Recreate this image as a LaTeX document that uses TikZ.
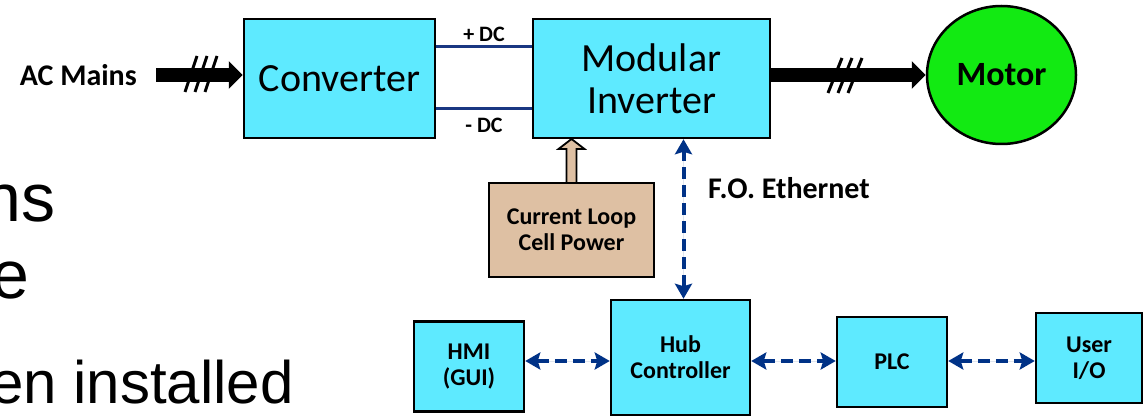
\documentclass[tikz,border=0pt]{standalone}
\usepackage{fontspec}
\newfontfamily\carlito{Carlito}
\newfontfamily\arialf{Liberation Sans}
\usetikzlibrary{arrows.meta,calc,shapes.geometric}
\definecolor{cyanbox}{RGB}{94,234,255}
\definecolor{tanbox}{RGB}{222,192,163}
\definecolor{motorgreen}{RGB}{18,234,18}
\definecolor{navy}{RGB}{0,50,135}
\definecolor{dcblue}{RGB}{25,55,130}
\pgfdeclareradialshading{bgshade}{\pgfpoint{0bp}{0bp}}{color(0bp)=(white); color(28bp)=(white); color(45bp)=(black!18); color(75bp)=(black!18)}
\begin{document}
\begin{tikzpicture}[x=1pt,y=-1pt,
  box/.style={draw=black, line width=2.5pt, fill=cyanbox, inner sep=0pt, align=center},
  bigtext/.style={font=\carlito\fontsize{40}{42}\selectfont},
  smalltext/.style={font=\carlito\bfseries\fontsize{24}{26}\selectfont},
  dclabel/.style={font=\carlito\bfseries\fontsize{22}{24}\selectfont, inner sep=0pt},
  slidetext/.style={anchor=base east, inner sep=0pt},
  thickarrow/.style={line width=14pt, -{Triangle[length=14pt 0 0, width=27pt 0 0]}},
  hashmark/.style={line width=3pt},
  dcline/.style={draw=dcblue, line width=3pt},
  foarrow/.style={draw=navy, fill=navy, line width=4pt, dash pattern=on 12pt off 6pt,
    {Stealth[length=15pt 0 0, width=17pt 0 0, inset=2.5pt]}-{Stealth[length=15pt 0 0, width=17pt 0 0, inset=2.5pt]}}
]
\useasboundingbox (0,0) rectangle (1144,417);
\clip (0,0) rectangle (1144,417);
\shade[shading=bgshade] (-600,-520) rectangle (1400,1480);

% slide text fragments
\node[slidetext, font=\arialf\fontsize{68}{70}\selectfont] (s1) at (56,222) {ns};
\node[slidetext, font=\arialf\fontsize{68}{70}\selectfont] (s2) at (30,298) {e};
\node[slidetext, font=\arialf\fontsize{60}{62}\selectfont] (s3) at (294,403) {en installed};

% nodes
\node[font=\carlito\bfseries\fontsize{30}{32}\selectfont, anchor=east, inner xsep=0pt] (acm) at (137,75) {AC Mains};
\node[box, bigtext, minimum width=191pt, minimum height=119pt] (conv) at (339.5,78.5) {Converter};
\node[box, bigtext, minimum width=237pt, minimum height=119pt] (inv) at (651.5,78.5) {Modular\\Inverter};
\node[ellipse, draw=black, line width=2.5pt, fill=motorgreen, minimum width=149pt, minimum height=138pt, inner sep=0pt, font=\carlito\bfseries\fontsize{34}{36}\selectfont] (motor) at (1001.5,75) {Motor};

% tan block arrow
\draw[line width=1.8pt, fill=tanbox, line join=miter]
  ($(571.5,183)+(-5,0)$) -- ($(571.5,183)+(-5,-34)$) -- ($(571.5,183)+(-13,-34)$)
  -- (571.5,139) -- ($(571.5,183)+(13,-34)$) -- ($(571.5,183)+(5,-34)$) -- ($(571.5,183)+(5,0)$);
\node[draw=black, line width=2.5pt, fill=tanbox, inner sep=0pt, align=center, smalltext, minimum width=165pt, minimum height=94pt] (cl) at (571.5,230) {Current Loop\\Cell Power};

\node[box, smalltext, minimum width=110pt, minimum height=90pt] (hmi) at (469,366.5) {HMI\\(GUI)};
\node[box, smalltext, minimum width=139pt, minimum height=115pt] (hub) at (680.5,357.5) {Hub\\Controller};
\node[box, smalltext, minimum width=110pt, minimum height=90pt] (plc) at (892,362) {PLC};
\node[box, smalltext, minimum width=106pt, minimum height=90pt] (user) at (1089,358) {User\\I/O};

\node[font=\carlito\bfseries\fontsize{30}{32}\selectfont, anchor=west, inner sep=0pt] (fo) at (708,188) {F.O. Ethernet};

% power connectors
\draw[thickarrow, shorten <=19pt] (acm.east) -- (conv.west |- acm.east);
\foreach \x in {185,195,205} \draw[hashmark] (\x,92) -- (\x+12,56);
\draw[thickarrow] (inv.east |- motor.west) -- (motor.west);
\foreach \x in {828,838,848} \draw[hashmark] (\x,93) -- (\x+14,58);

\draw[dcline] ($(conv.north east)+(0,29)$) -- node[dclabel, yshift=12pt] {+ DC} ($(inv.north west)+(0,29)$);
\draw[dcline] ($(conv.south east)+(0,-31)$) -- node[dclabel, yshift=-17pt] {- DC} ($(inv.south west)+(0,-31)$);

% communication
\draw[foarrow] ($(hub.north)+(3,0)$) -- ($(inv.south -| hub.north)+(3,0)$);
\draw[foarrow] (hmi.east |- 0,361) -- (hub.west |- 0,361);
\draw[foarrow] (hub.east |- 0,361) -- (plc.west |- 0,361);
\draw[foarrow] (plc.east |- 0,361) -- (user.west |- 0,361);
\end{tikzpicture}
\end{document}
